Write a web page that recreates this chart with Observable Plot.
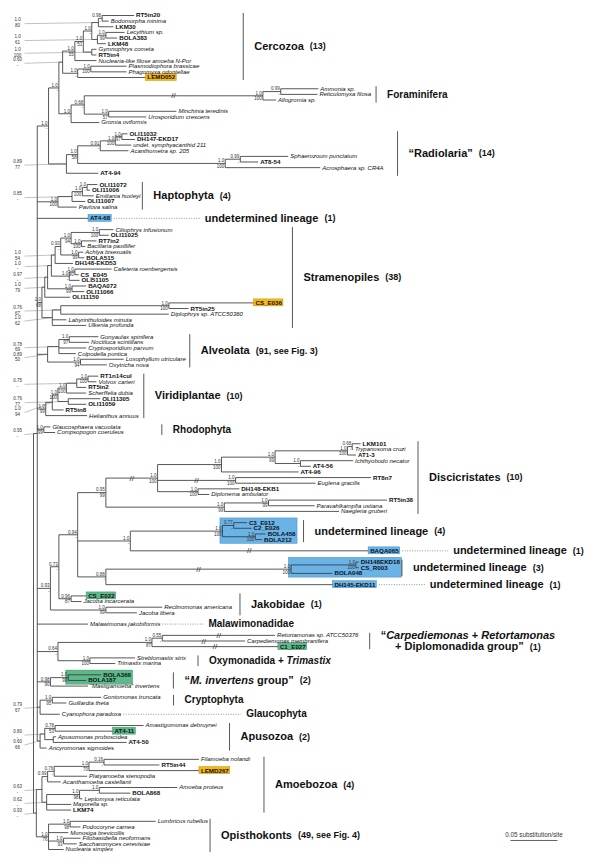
<!DOCTYPE html>
<html><head><meta charset="utf-8">
<script src="https://cdn.jsdelivr.net/npm/d3@7"></script>
<script src="https://cdn.jsdelivr.net/npm/@observablehq/plot@0.6"></script>
<style>body{margin:0;background:#fff}svg{display:block}</style>
</head><body><div id="chart"></div>
<script>
// ===================== DATA =====================
// Newick subtrees: branch lengths in substitutions/site, node labels "posterior/bootstrap"
// ("@" = support value written in the left margin with a leader line)
const cercozoa = "((((((RT5in20:0.034,Bodomorpha minima:0.007)0.98/-:0.004,LKM30:0.016)@1.0/80:0.007,((Lecythium sp.:0.020,BOLA383:0.012)1.0/99:0.009,LKM48:0.009)@1.0/61:0.006)1.0/-:0.009,(Gymnophrys cometa:0.005,RT5in4:0.005)@1.0/100:0.009)1.0/51:0.009,Nuclearia-like filose amoeba N-Por:0.023)1.0/55:0.013,((Plasmodiophora brassicae:0.038,Phagomyxa odontellae:0.038)1.0/100:0.014,LEMD052:0.072)1.0/-:0.016)@0.60/-";
const foraminifera = "((Ammonia sp.:0.040,Reticulomyxa filosa:0.039)0.99/-:0.019,Allogromia sp.:0.014)1.0/100";
const haplosporidia = "(Minchinia teredinis:0.072,Urosporidium crescens:0.040)1.0/57";
const acantharia = "(((OLI11032:0.006,DH147-EKD17:0.014)1.0/97:0.007,undet. symphyacanthid 211:0.017)1.0/100:0.016,Acanthometra sp. 205:0.030)0.91/-";
const polycystinea = "((Sphaerozoum punctatum:0.051,AT8-54:0.019)0.99/-:0.016,Acrosphaera sp. CR4A:0.101)1.0/100";
const haptophyta = "((((OLI11072:0.011,OLI11006:0.003)1.0/-:0.005,Emiliania huxleyi:0.012)1.0/100:0.011,OLI11007:0.014)@0.85/-:0.015,Pavlova salina:0.020)1.0/100";
const stramenopiles = "((((((((Ciliophrys infusionum:0.015,OLI11025:0.010)1.0/100:0.030,(RT7in2:0.016,Bacillaria paxillifer:0.004)1.0/100:0.011)1.0/94:0.011,(Achlya bisexualis:0.005,BOLA515:0.006)1.0/99:0.019)0.93/-:0.006,DH148-EKD53:0.019)@1.0/54:0.004,((Cafeteria roenbergensis:0.039,CS_E045:0.004)1.0/90:0.006,OLI51105:0.011)1.0/-:0.019)@1.0/-:0.004,(BAQA072:0.015,OLI11066:0.013)1.0/99:0.026)@0.97/-:0.003,OLI11150:0.027)@1.0/79:0.003,(((CS_E036:0.090,RT5in25:0.021)1.0/100:0.115,Diplophrys sp. ATCC50360:0.115)@0.76/67:0.009,Labyrinthuloides minuta:0.015,Ulkenia profunda:0.036)@1.0/62:0.011)1.0/68";
const alveolata = "(((Gonyaulax spinifera:0.031,Noctiluca scintillans:0.021)1.0/97:0.011,Cryptosporidium parvum:0.029,Colpodella pontica:0.018)@0.78/69:0.012,(Loxophyllum utriculare:0.046,Oxytricha nova:0.028)1.0/94:0.035)@0.89/50";
const viridiplantae = "((((((RT1n14cul:0.011,Volvox carteri:0.009)1.0/100:0.012,RT5in2:0.010)@0.75/-:0.011,Scherffelia dubia:0.021)1.0/100:0.009,(OLI11305:0.034,OLI11059:0.019)@0.76/77:0.011)1.0/100:0.006,RT5in8:0.012)@1.0/94:0.007,Helianthus annuus:0.044)1.0/99";
const rhodophyta = "(Glaucosphaera vacuolata:0.007,Compsopogon coeruleus:0.012)1.0/99";
const kinetoplastids = "((((LKM101:0.009,Trypanosoma cruzi:0.001)0.68/-:0.005,AT1-3:0.009)1.0/100:0.077,(Ichthyobodo necator:0.056,AT4-56:0.011)1.0/-:0.027)1.0/99:0.057,AT4-96:0.082)1.0/100";
const euglenids = "(RT8n7:0.144,Euglena gracilis:0.085)1.0/100";
const diplonemids = "(DH148-EKB1:0.044,Diplonema ambulator:0.012)1.0/100";
const heterolobosea = "((RT5in38:0.126,Paravahlkampfia ustiana:0.049)1.0/99:0.047,Naegleria gruberi:0.122)1.0/99";
const undetermined4 = "((C3_E012:0.014,C2_E026:0.019)0.77/-:0.012,(BOLA458:0.011,BOLA212:0.007)1.0/100:0.035)1.0/100";
const undetermined3 = "((DH148EKD18:0.003,CS_R003:0.003)1.0/100:0.069,BOLA048:0.044)1.0/100";
const jakobidsA = "(CS_E022:0.016,Jacoba incarcerata:0.011)0.96/87";
const jakobidsB = "(Reclinomonas americana:0.060,Jacoba libera:0.033)1.0/99";
const carpOxy = "(((Retortamonas sp. ATCC50376:0.120,Carpediemonas membranifera:0.088)0.55/-:0.011,C1_E027:0.134)1.0/87:0.100,(Streblomastix strix:0.048,Trimastix marina:0.027)1.0/100:0.034)0.64/-";
const invertens = "((BOLA366:0.035,BOLA187:0.019)1.0/99:0.019,“Mastigamoeba” invertens:0.040)0.98/90";
const cryptoGlauco = "((Goniomonas truncata:0.052,Guillardia theta:0.015)1.0/95:0.013,Cyanophora paradoxa:0.021)@0.79/67";
const apusozoa = "(((Amastigomonas debruynei:0.094,AT4-11:0.061)0.78/53:0.011,(Apusomonas proboscidea:0.003,AT4-50:0.078):0.009)@0.80/-:0.005,Ancyromonas sigmoides:0.007)@0.60/66";
const amoebozoa = "(((((Filamoeba nolandi:0.101,RT5in44:0.059)0.16/-:0.016,LEMD267:0.117)1.0/70:0.037,Platyamoeba stenopodia:0.035)0.76/-:0.007,Acanthamoeba castellanii:0.014)0.99/-:0.006,(((Amoeba proteus:0.083,BOLA868:0.033)1.0/-:0.021,Leptomyxa reticulata:0.003)1.0/98:0.035,Mayorella sp.:0.026,LKM74:0.026)@0.62/-:0.005)@0.63/-";
const opisthokonts = "((Lumbricus rubellus:0.091,Podocoryne carnea:0.011)1.0/98:0.023,Monosiga brevicollis:0.021,(Filobasidiella neoformans:0.018,Saccharomyces cerevisiae:0.014)1.0/93:0.016,Nuclearia simplex:0.016)1.0/76";

const rhizaria = `((${cercozoa}:0.004,((${foraminifera}:0.190,${haplosporidia}:0.026)0.68/-:0.014,Gromia oviformis:0.030)1.0/-:0.013)1.0/-:0.011,((${acantharia}:0.024,${polycystinea}:0.157)1.0/58:0.012,AT4-94:0.034)@0.89/77:0.019)1.0/-`;
const euglenozoa = `(${kinetoplastids}:0.068,${euglenids}:0.083,${diplonemids}:0.043)1.0/100`;
const excavates = `((((${euglenozoa}:0.055,${heterolobosea}:0.126)0.95/99:0.030,(${undetermined4}:0.098,BAQA065:0.253)1.0/-:0.056,(${undetermined3}:0.197,DH145-EKD11:0.241)0.88/-:0.030)0.94/-:0.020,${jakobidsA}:0.013)0.73/-:0.009,${jakobidsB}:0.059)0.93/-`;
const bikonts = `(${rhizaria}:0.012,${haptophyta}:0.022,AT4-68:0.054,${stramenopiles}:0.005,${alveolata}:0.011,${viridiplantae}:0.009,${rhodophyta}:0.007,${excavates}:0.014,Malawimonas jakobiformis:0.054,${carpOxy}:0.022,${invertens}:0.014,${cryptoGlauco}:0.003,${apusozoa}:0.003)@0.95/-`;
const unikonts = `(${amoebozoa}:0.006,${opisthokonts}:0.013)@0.93/-`;
const treeString = `(${bikonts}:0.004,${unikonts}:0.003);`;

// clade annotations (first/last tip of the bracket)
const clades = [
  {first:"RT5in20", last:"LEMD052", name:"Cercozoa", count:"(13)"},
  {first:"Ammonia sp.", last:"Allogromia sp.", name:"Foraminifera"},
  {first:"OLI11032", last:"AT4-94", name:"“Radiolaria”", count:"(14)"},
  {first:"OLI11072", last:"Pavlova salina", name:"Haptophyta", count:"(4)"},
  {first:"AT4-68", name:"undetermined lineage", count:"(1)"},
  {first:"Ciliophrys infusionum", last:"Ulkenia profunda", name:"Stramenopiles", count:"(38)"},
  {first:"Gonyaulax spinifera", last:"Oxytricha nova", name:"Alveolata", count:"(91, see Fig. 3)"},
  {first:"RT1n14cul", last:"Helianthus annuus", name:"Viridiplantae", count:"(10)"},
  {first:"Glaucosphaera vacuolata", last:"Compsopogon coeruleus", name:"Rhodophyta"},
  {first:"LKM101", last:"Naegleria gruberi", name:"Discicristates", count:"(10)"},
  {first:"C3_E012", last:"BOLA212", name:"undetermined lineage", count:"(4)"},
  {first:"BAQA065", name:"undetermined lineage", count:"(1)"},
  {first:"DH148EKD18", last:"BOLA048", name:"undetermined lineage", count:"(3)"},
  {first:"DH145-EKD11", name:"undetermined lineage", count:"(1)"},
  {first:"CS_E022", last:"Jacoba libera", name:"Jakobidae", count:"(1)"},
  {first:"Malawimonas jakobiformis", name:"Malawimonadidae"},
  {first:"Retortamonas sp. ATCC50376", last:"C1_E027", name:["“*Carpediemonas* + *Retortamonas*", "+ Diplomonadida group”"], count:"(1)"},
  {first:"Streblomastix strix", last:"Trimastix marina", name:"Oxymonadida + *Trimastix*"},
  {first:"BOLA366", last:"“Mastigamoeba” invertens", name:"“*M. invertens* group”", count:"(2)"},
  {first:"Goniomonas truncata", last:"Guillardia theta", name:"Cryptophyta"},
  {first:"Cyanophora paradoxa", name:"Glaucophyta"},
  {first:"Amastigomonas debruynei", last:"Ancyromonas sigmoides", name:"Apusozoa", count:"(2)"},
  {first:"Filamoeba nolandi", last:"LKM74", name:"Amoebozoa", count:"(4)"},
  {first:"Lumbricus rubellus", last:"Nuclearia simplex", name:"Opisthokonts", count:"(49, see Fig. 4)"}
];
const yellowTips = ["LEMD052", "CS_E036", "LEMD267"];
const blueTips = ["AT4-68", "BAQA065", "DH145-EKD11"];
const greenTips = ["CS_E022", "C1_E027", "AT4-11"];
const blueGroups = [["C3_E012", "BOLA212"], ["DH148EKD18", "BOLA048"]];
const greenGroups = [["BOLA366", "BOLA187"]];
const brokenBranches = [["Ammonia sp.", "Allogromia sp."], ["LKM101", "Diplonema ambulator"], ["RT8n7", "Euglena gracilis"], ["BAQA065"], ["DH148EKD18", "BOLA048"], ["Retortamonas sp. ATCC50376"], ["Carpediemonas membranifera"], ["C1_E027"]];
const scaleBar = {value: 0.05, label: "0.05 substitution/site"};

// ===================== LAYOUT / STYLE =====================
const W = 600, H = 866, X0 = 33, PX = 940, Y0 = 15, Y1 = 849, GAP = 1;
// px between the rightmost tip label of a clade and its bracket (or end of dotted line)
const labelGap = [44, 5, 14, 2, 88, 9, 4, 5, 38, 5, 6, 48, 0, 48, 8, 43, 11, 12, 14, 13, 120, 13, 14, 2];
const FONT = '"Liberation Sans", Arial, Helvetica, sans-serif';
const IT_FS = 6.0, BD_FS = 6.2, SUP_FS = 4.5;
const COL = {yellow: ["#f4b81a", "#c98f00"], blue: ["#69b3e7", "#3f8cc4"], green: ["#5db98b", "#3c9468"]};
const envRe = /^(RT\d|LKM|BOLA|OLI|DH1|AT\d|CS_|C\d_|BAQA|LEMD)/;

// ===================== BUILD =====================
function parseNewick(s) {
  let i = 0;
  function node() {
    const n = {children: [], label: "", len: 0};
    if (s[i] === "(") { i++; do { n.children.push(node()); } while (s[i++] === ","); }
    let lab = "";
    while (i < s.length && !",():;".includes(s[i])) lab += s[i++];
    n.label = lab.trim();
    if (s[i] === ":") { i++; let num = ""; while (i < s.length && !",();".includes(s[i])) num += s[i++]; n.len = +num; }
    return n;
  }
  return node();
}
const tree = parseNewick(treeString);
const nodes = [], leaves = [];
(function walk(n, parent, depth) {
  n.parent = parent; n.depth = depth; nodes.push(n);
  if (!n.children.length) { n.idx = leaves.length; leaves.push(n); }
  n.children.forEach(c => walk(c, n, depth + c.len));
})(tree, null, 0);
const leafIdx = new Map(leaves.map((l, i) => [l.label, i]));
const idxOf = name => { const v = leafIdx.get(name); if (v === undefined) throw new Error("missing " + name); return v; };

const cladeOf = new Array(leaves.length).fill(-1);
clades.forEach((c, k) => { const a = idxOf(c.first), b = idxOf(c.last ?? c.first); for (let i = a; i <= b; i++) cladeOf[i] = k; });
let row = 0;
leaves.forEach((l, i) => { if (i > 0) { row += 1; if (cladeOf[i] !== cladeOf[i - 1]) row += GAP; } l.y = row; });
(function setY(n) {
  if (!n.children.length) { n.lo = n.hi = n.idx; return; }
  n.children.forEach(setY);
  const f = n.children[0], l = n.children[n.children.length - 1];
  n.y = (f.y + l.y) / 2; n.lo = f.lo; n.hi = l.hi;
})(tree);
const maxRow = leaves[leaves.length - 1].y;
const rowPx = (Y1 - Y0) / maxRow;
const toPx = d => X0 + d * PX, toD = px => (px - X0) / PX;
function lca(a, b) {
  const i = idxOf(a), j = idxOf(b ?? a); let best = null;
  for (const n of nodes) if (n.lo <= i && n.hi >= j && (!best || n.hi - n.lo < best.hi - best.lo || (n.hi - n.lo === best.hi - best.lo && n.depth > best.depth))) best = n;
  return best;
}
const ctx = document.createElement("canvas").getContext("2d");
function tw(t, size, weight = "normal", style = "normal") { ctx.font = `${style} ${weight} ${size}px ${FONT}`; return ctx.measureText(t).width; }

// tips
const boxColor = new Map();
yellowTips.forEach(n => boxColor.set(n, COL.yellow)); blueTips.forEach(n => boxColor.set(n, COL.blue)); greenTips.forEach(n => boxColor.set(n, COL.green));
leaves.forEach(l => {
  l.env = envRe.test(l.label);
  l.start = toPx(l.depth) + 2;
  l.end = l.start + (l.env ? tw(l.label, BD_FS, "bold") : tw(l.label, IT_FS, "normal", "italic")) + (boxColor.has(l.label) ? 1.5 : 0);
});
const boxes = [];
leaves.forEach(l => { const c = boxColor.get(l.label); if (c) boxes.push({x1: toD(l.start - 1.5), x2: toD(l.end), y1: l.y - 0.62, y2: l.y + 0.62, fill: c[0], stroke: c[1]}); });
const groupBoxes = [];
[[blueGroups, COL.blue], [greenGroups, COL.green]].forEach(([gs, c]) => gs.forEach(([a, b]) => {
  const n = lca(a, b), i0 = idxOf(a), i1 = idxOf(b);
  let e = -Infinity; for (let i = i0; i <= i1; i++) e = Math.max(e, leaves[i].end);
  const g = {i0, i1, x2px: e + 2, x1: toD(toPx(n.depth) - 2), x2: toD(e + 2), y1: leaves[i0].y - 0.75, y2: leaves[i1].y + 0.75, fill: c[0], stroke: c[1]};
  groupBoxes.push(g); boxes.push(g);
}));

// clade annotations
const segs = [], bars = [], dots = [];
clades.forEach((c, k) => {
  const a = idxOf(c.first), b = idxOf(c.last ?? c.first);
  let end = -Infinity; for (let i = a; i <= b; i++) end = Math.max(end, leaves[i].end);
  groupBoxes.forEach(g => { if (g.i0 >= a && g.i1 <= b) end = Math.max(end, g.x2px); });
  const yc = (leaves[a].y + leaves[b].y) / 2, gap = labelGap[k];
  let tx;
  if (a === b) { dots.push({x1: toD(end + 2), x2: toD(end + gap), y: yc}); tx = end + gap + 5; }
  else { bars.push({x: toD(end + gap), y1: leaves[a].y - 0.45, y2: leaves[b].y + 0.45}); tx = end + gap + 11; }
  const lines = Array.isArray(c.name) ? c.name : [c.name];
  const fs = c.count ? 11 : 10;
  const info = lines.map((ln, li) => {
    let w = 0;
    const ps = ln.split("*").map((t, pi) => { const it = pi % 2 === 1; const r = {t, it, off: w}; w += tw(t, fs, "bold", it ? "italic" : "normal"); return r; });
    const cw = (c.count && li === lines.length - 1) ? 6 + tw(c.count, 9, "bold") : 0;
    return {ps, w, cw};
  });
  const maxW = d3.max(info, l => l.w + l.cw), lh = 11.5 / rowPx;
  info.forEach((l, li) => {
    const y = yc + (li - (lines.length - 1) / 2) * lh;
    const x0 = tx + (lines.length > 1 ? (maxW - l.w - l.cw) / 2 : 0);
    l.ps.forEach(p => {
      const tt = p.t.trim(); if (!tt) return;
      const lead = tw(p.t.slice(0, p.t.indexOf(tt)), fs, "bold", p.it ? "italic" : "normal");
      segs.push({x: toD(x0 + p.off + lead), y, text: tt, fs, it: p.it});
    });
    if (l.cw) segs.push({x: toD(x0 + l.w + 6), y, text: c.count, fs: 9, it: false});
  });
});

// supports
const internal = nodes.filter(n => n.children.length);
const direct = internal.filter(n => n.label && !n.label.startsWith("@")).map(n => { const [p, b] = n.label.split("/"); return {n, p, b}; });
const left = internal.filter(n => n.label.startsWith("@")).sort((a, b) => a.y - b.y);
let prev = -Infinity;
left.forEach(n => { n.ly = Math.max(n.y, prev + 10 / rowPx); prev = n.ly; const [p, b] = n.label.slice(1).split("/"); n.ltext = p + "\n" + b; });
const breaks = brokenBranches.map(([a, b]) => lca(a, b));

const stroke = "#3a3a3a";
const sbX2 = toD(W - 43);
const chart = Plot.plot({
  width: W, height: H, margin: 0,
  x: {domain: [toD(0), toD(W)], range: [0, W], axis: null},
  y: {domain: [0, maxRow], range: [Y0, Y1], axis: null},
  color: {type: "identity"},
  style: {fontFamily: FONT, background: "#fff"},
  marks: [
    Plot.rect(boxes, {x1: "x1", x2: "x2", y1: "y1", y2: "y2", fill: "fill", stroke: "stroke", strokeWidth: 0.5}),
    Plot.link(nodes.filter(n => n.parent), {x1: n => n.parent.depth, x2: n => n.depth, y1: n => n.y, y2: n => n.y, stroke, strokeWidth: 0.85}),
    Plot.link(internal, {x1: n => n.depth, x2: n => n.depth, y1: n => n.children[0].y, y2: n => n.children[n.children.length - 1].y, stroke, strokeWidth: 0.85}),
    Plot.link(left, {x1: toD(24), y1: n => n.ly + 0.2, x2: n => n.depth - 1 / PX, y2: n => n.y, stroke: "#666", strokeWidth: 0.4}),
    Plot.link(dots, {x1: "x1", x2: "x2", y1: "y", y2: "y", stroke: "#777", strokeWidth: 0.8, strokeDasharray: "1,1.5"}),
    Plot.link(bars, {x1: "x", x2: "x", y1: "y1", y2: "y2", stroke: "#444", strokeWidth: 0.9}),
    Plot.text(leaves.filter(l => !l.env), {x: "depth", y: "y", text: "label", dx: 2, textAnchor: "start", fontSize: IT_FS, fontStyle: "italic", fill: "#111"}),
    Plot.text(leaves.filter(l => l.env), {x: "depth", y: "y", text: "label", dx: 2, textAnchor: "start", fontSize: BD_FS, fontWeight: "bold", fill: "#111"}),
    Plot.text(direct, {x: d => d.n.depth, y: d => d.n.y, text: "p", dx: -1, dy: -2.6, textAnchor: "end", fontSize: SUP_FS, fill: "#333"}),
    Plot.text(direct, {x: d => d.n.depth, y: d => d.n.y, text: "b", dx: -1, dy: 3.0, textAnchor: "end", fontSize: SUP_FS, fill: "#333"}),
    Plot.text(left, {x: toD(17), y: "ly", text: "ltext", textAnchor: "middle", lineHeight: 1.3, fontSize: SUP_FS, fill: "#333"}),
    Plot.text(breaks, {x: n => (n.parent.depth + n.depth) / 2, y: "y", text: () => "//", fontSize: 8, fill: "#333"}),
    Plot.text(segs.filter(s => !s.it), {x: "x", y: "y", text: "text", fontSize: d => d.fs, fontWeight: "bold", textAnchor: "start", fill: "#111"}),
    Plot.text(segs.filter(s => s.it), {x: "x", y: "y", text: "text", fontSize: d => d.fs, fontWeight: "bold", fontStyle: "italic", textAnchor: "start", fill: "#111"}),
    Plot.link([scaleBar], {x1: sbX2 - scaleBar.value, x2: sbX2, y1: maxRow - 1.6, y2: maxRow - 1.6, stroke, strokeWidth: 0.8}),
    Plot.text([scaleBar], {x: sbX2 - scaleBar.value / 2, y: maxRow - 2.6, text: "label", fontSize: 6.3, fill: "#333"})
  ]
});
document.getElementById("chart").append(chart);
</script>
</body></html>
